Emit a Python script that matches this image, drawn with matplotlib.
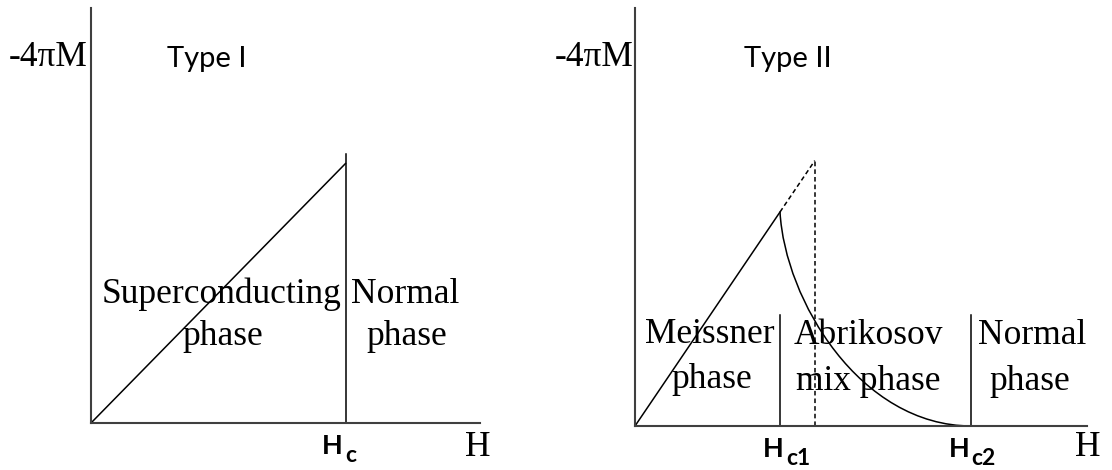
import numpy as np
import matplotlib.pyplot as plt
from matplotlib.path import Path
from matplotlib.patches import PathPatch

# Type I: magnetisation grows linearly up to Hc, then drops to zero
hc = 1.0
m_at_hc = 1.0
hc_line_top = 1.035

# Type II: Meissner line up to Hc1, then the Abrikosov (mixed state) curve down to Hc2
hc1 = 1.0
hc2 = 2.32
hc_thermo = 1.24
divider_top = 0.52
# cubic bezier nodes for the mixed-state curve: start, two handles, end
curve_h = [hc1, 1.034, 1.552, hc2]
curve_m = [1.0, 0.589, 0.0, 0.0]

W, H = 1112, 470
fig = plt.figure(figsize=(W / 100, H / 100), dpi=100)

serif = 'Liberation Serif'
sans = 'Lato'
axis_col = '#3f3f3f'
lw = 1.1


def px_axes(x0, y0, x1, y1):
    # axes box given by pixel corners (top-left origin)
    return fig.add_axes([x0 / W, 1 - y1 / H, (x1 - x0) / W, (y1 - y0) / H])


def style(ax):
    for s in ['top', 'right']:
        ax.spines[s].set_visible(False)
    for s in ['left', 'bottom']:
        ax.spines[s].set_color(axis_col)
        ax.spines[s].set_linewidth(1.5)
    ax.set_xticks([])
    ax.set_yticks([])
    ax.patch.set_alpha(0)


def ftext(px, py, s, **kw):
    fig.text(px / W, 1 - py / H, s, **kw)


def field_label(ax, x, sub, dx_h, dx_sub):
    # "H" with a large subscript, hung under the axis at x
    ax.annotate('H', xy=(x, 0), xytext=(dx_h, -31), textcoords='offset pixels',
                ha='right', va='baseline', fontsize=19.5, family=sans, weight='bold',
                annotation_clip=False)
    ax.annotate(sub, xy=(x, 0), xytext=(dx_sub, -39), textcoords='offset pixels',
                ha='left', va='baseline', fontsize=16.5, family=sans, weight='bold',
                annotation_clip=False)


# ---- Type I ----
ax1 = px_axes(91, 8, 480, 423)
style(ax1)
ax1.set_xlim(0, 389 / 255)
ax1.set_ylim(0, 415 / 260)
ax1.plot([0, hc], [0, m_at_hc], color='black', lw=lw, solid_capstyle='butt')
ax1.plot([hc, hc], [0, hc_line_top], color='black', lw=lw)
field_label(ax1, hc, 'c', -3, -1)

ftext(48, 66, '-4πM', ha='center', va='baseline', fontsize=25.5, family=serif)
ftext(207, 67, 'Type I', ha='center', va='baseline', fontsize=21, family=sans)
ftext(478, 456, 'H', ha='center', va='baseline', fontsize=25.5, family=serif)
ftext(222, 303, 'Superconducting', ha='center', va='baseline', fontsize=25.5, family=serif)
ftext(223, 345, 'phase', ha='center', va='baseline', fontsize=25.5, family=serif)
ftext(405, 303, 'Normal', ha='center', va='baseline', fontsize=25.5, family=serif)
ftext(407, 345, 'phase', ha='center', va='baseline', fontsize=25.5, family=serif)

# ---- Type II ----
ax2 = px_axes(635, 8, 1087, 426)
style(ax2)
ax2.set_xlim(0, 452 / 145)
ax2.set_ylim(0, 418 / 214)
ax2.plot([0, hc1], [0, hc1], color='black', lw=lw)
ax2.plot([hc1, hc_thermo], [hc1, hc_thermo], color='black', lw=lw, ls=(0, (3, 2)))
ax2.plot([hc_thermo, hc_thermo], [0, hc_thermo], color='black', lw=lw, ls=(0, (3, 2)))
mixed = Path(list(zip(curve_h, curve_m)),
             [Path.MOVETO, Path.CURVE4, Path.CURVE4, Path.CURVE4])
ax2.add_patch(PathPatch(mixed, facecolor='none', edgecolor='black', lw=lw))
ax2.plot([hc1, hc1], [0, divider_top], color='black', lw=lw)
ax2.plot([hc2, hc2], [0, divider_top], color='black', lw=lw)
field_label(ax2, hc1, 'c1', 4, 6)
field_label(ax2, hc2, 'c2', -2, 0)

ftext(594, 66, '-4πM', ha='center', va='baseline', fontsize=25.5, family=serif)
ftext(788, 67, 'Type II', ha='center', va='baseline', fontsize=21, family=sans)
ftext(1088, 456, 'H', ha='center', va='baseline', fontsize=25.5, family=serif)
ftext(710, 343, 'Meissner', ha='center', va='baseline', fontsize=25.5, family=serif)
ftext(712, 388, 'phase', ha='center', va='baseline', fontsize=25.5, family=serif)
ftext(868, 344, 'Abrikosov', ha='center', va='baseline', fontsize=25.5, family=serif)
ftext(868, 390, 'mix phase', ha='center', va='baseline', fontsize=25.5, family=serif)
ftext(1032, 344, 'Normal', ha='center', va='baseline', fontsize=25.5, family=serif)
ftext(1030, 390, 'phase', ha='center', va='baseline', fontsize=25.5, family=serif)

fig.savefig('out.png', dpi=100, facecolor='white')
